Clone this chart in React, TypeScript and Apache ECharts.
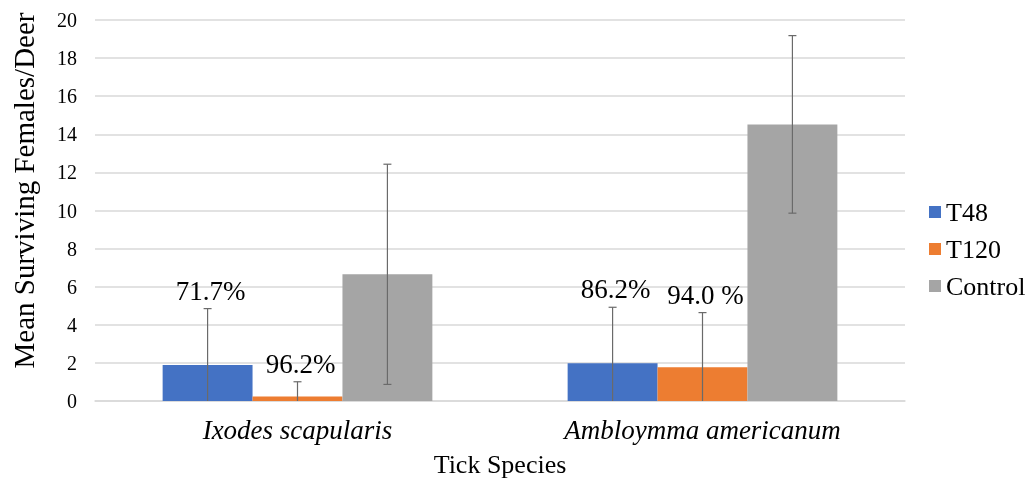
import React, { useEffect, useRef } from "react";
import * as echarts from "echarts";

const categories = ["Ixodes scapularis", "Ambloymma americanum"];
const seriesNames = ["T48", "T120", "Control"];
const t48 = [1.89, 1.98];
const t120 = [0.23, 1.77];
const control = [6.65, 14.52];
const t48Err = [2.96, 2.94];
const t120Err = [0.78, 2.87];
const controlErr = [5.78, 4.66];
const t48Labels = ["71.7%", "86.2%"];
const t120Labels = ["96.2%", "94.0 %"];
const yTicks = [0, 20, 2];

const colors = ["#4472C4", "#ED7D31", "#A5A5A5"];
const FONT = "'Liberation Serif', 'Times New Roman', serif";

export default function App() {
  const ref = useRef<HTMLDivElement>(null);
  useEffect(() => {
    if (!ref.current) return;
    const chart = echarts.init(ref.current, null, { renderer: "svg" });
    const values = [t48, t120, control];
    const errs = [t48Err, t120Err, controlErr];
    const labels = [t48Labels, t120Labels, null as string[] | null];
    const errData: any[] = [];
    for (let s = 0; s < 3; s++) {
      for (let c = 0; c < categories.length; c++) {
        const v = values[s][c];
        const e = errs[s][c];
        errData.push([c, Math.max(0, v - e), v + e, s, labels[s] ? labels[s]![c] : ""]);
      }
    }
    chart.setOption({
      animation: false,
      color: colors,
      textStyle: { fontFamily: FONT },
      grid: { left: 95, top: 20, width: 810, height: 381, outerBoundsMode: "none", containLabel: false },
      legend: {
        orient: "vertical",
        left: 924,
        top: 194,
        itemWidth: 12,
        itemHeight: 12,
        itemGap: 11,
        icon: "rect",
        textStyle: { fontFamily: FONT, fontSize: 26, color: "#000" },
        data: seriesNames,
      },
      xAxis: {
        type: "category",
        data: categories,
        name: "Tick Species",
        nameLocation: "middle",
        nameGap: 50,
        nameTextStyle: { fontFamily: FONT, fontSize: 26, color: "#000" },
        axisLine: { lineStyle: { color: "#D9D9D9", width: 1.5 } },
        axisTick: { show: false },
        axisLabel: { fontFamily: FONT, fontSize: 27, fontStyle: "italic", color: "#000", margin: 15 },
      },
      yAxis: {
        type: "value",
        min: yTicks[0],
        max: yTicks[1],
        interval: yTicks[2],
        name: "Mean Surviving Females/Deer",
        nameLocation: "middle",
        nameGap: 57,
        nameTextStyle: { fontFamily: FONT, fontSize: 29, color: "#000", padding: [0, 0, 0, 40] },
        axisLine: { show: false },
        axisTick: { show: false },
        axisLabel: { fontFamily: FONT, fontSize: 20, color: "#000", margin: 18 },
        splitLine: { lineStyle: { color: "#D9D9D9", width: 1.5 } },
      },
      series: [
        ...seriesNames.map((n, i) => ({
          name: n,
          type: "bar",
          data: values[i],
          barGap: "0%",
          barCategoryGap: "33.4%",
          itemStyle: { color: colors[i] },
        })),
        {
          type: "custom",
          name: "err",
          z: 10,
          data: errData,
          encode: { x: 0, y: [1, 2] },
          renderItem: (params: any, api: any) => {
            const c = api.value(0);
            const lo = api.value(1);
            const hi = api.value(2);
            const s = api.value(3);
            const lab = errData[params.dataIndex][4];
            const band = api.size([1, 0])[0];
            const bw = band * (1 - 0.334) / 3;
            const base = api.coord([c, 0]);
            const x = base[0] + (s - 1) * bw;
            const pHi = api.coord([c, hi]);
            const pLo = api.coord([c, lo]);
            const cap = 4;
            const st = { stroke: "#6A6A6A", lineWidth: 1.2 };
            const children: any[] = [
              { type: "line", shape: { x1: x, y1: pLo[1], x2: x, y2: pHi[1] }, style: st },
              { type: "line", shape: { x1: x - cap, y1: pHi[1], x2: x + cap, y2: pHi[1] }, style: st },
            ];
            if (lo > 0) {
              children.push({ type: "line", shape: { x1: x - cap, y1: pLo[1], x2: x + cap, y2: pLo[1] }, style: st });
            }
            if (lab) {
              children.push({
                type: "text",
                x: x + 3,
                y: pHi[1] - 18,
                style: {
                  text: lab,
                  fontFamily: FONT,
                  fontSize: 27,
                  fill: "#000",
                  align: "center",
                  verticalAlign: "middle",
                },
              });
            }
            return { type: "group", children };
          },
        },
      ],
    });
    return () => chart.dispose();
  }, []);
  return <div ref={ref} style={{ position: "fixed", left: 0, top: 0, width: 1027, height: 478 }} />;
}
